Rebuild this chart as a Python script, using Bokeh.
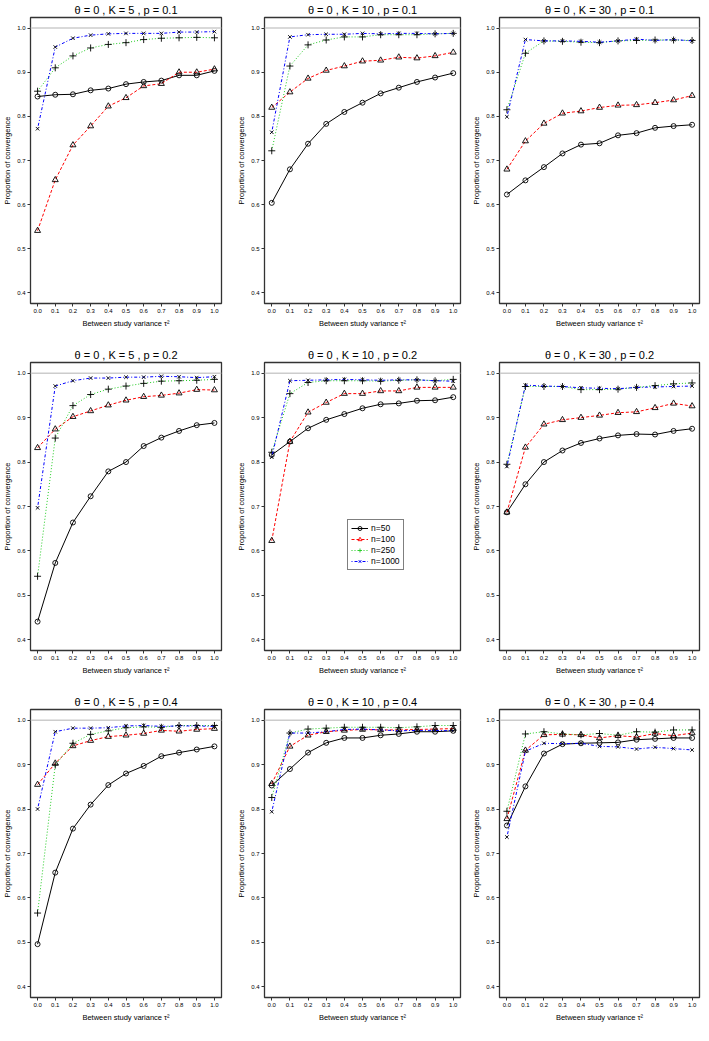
from bokeh.plotting import figure
from bokeh.layouts import gridplot
from bokeh.models import Span, Legend, LegendItem, FixedTicker, Range1d
from bokeh.embed import file_html
from bokeh.resources import INLINE

# ---------------- data ----------------
tau2 = [0.0, 0.1, 0.2, 0.3, 0.4, 0.5, 0.6, 0.7, 0.8, 0.9, 1.0]
x_tick_labels = ["0.0", "0.1", "0.2", "0.3", "0.4", "0.5", "0.6", "0.7", "0.8", "0.9", "1.0"]
y_ticks = [0.4, 0.5, 0.6, 0.7, 0.8, 0.9, 1.0]
y_tick_labels = ["0.4", "0.5", "0.6", "0.7", "0.8", "0.9", "1.0"]
K_values = [5, 10, 30]
p_values = [0.1, 0.2, 0.4]
series_names = ["n=50", "n=100", "n=250", "n=1000"]

# K=5, p=0.1
k5_p01_n50 = [0.845, 0.849, 0.850, 0.859, 0.863, 0.873, 0.878, 0.881, 0.893, 0.893, 0.903]
k5_p01_n100 = [0.541, 0.656, 0.735, 0.778, 0.823, 0.842, 0.869, 0.874, 0.900, 0.900, 0.907]
k5_p01_n250 = [0.857, 0.910, 0.937, 0.955, 0.963, 0.967, 0.974, 0.977, 0.978, 0.979, 0.978]
k5_p01_n1000 = [0.772, 0.957, 0.977, 0.984, 0.987, 0.988, 0.988, 0.988, 0.991, 0.991, 0.992]
# K=10, p=0.1
k10_p01_n50 = [0.604, 0.680, 0.738, 0.783, 0.810, 0.831, 0.852, 0.865, 0.878, 0.888, 0.898]
k10_p01_n100 = [0.820, 0.855, 0.886, 0.904, 0.914, 0.925, 0.927, 0.934, 0.932, 0.937, 0.945]
k10_p01_n250 = [0.722, 0.914, 0.962, 0.973, 0.980, 0.980, 0.985, 0.985, 0.985, 0.987, 0.988]
k10_p01_n1000 = [0.764, 0.980, 0.985, 0.986, 0.986, 0.988, 0.987, 0.988, 0.988, 0.987, 0.988]
# K=30, p=0.1
k30_p01_n50 = [0.623, 0.655, 0.685, 0.716, 0.736, 0.739, 0.757, 0.762, 0.774, 0.778, 0.781]
k30_p01_n100 = [0.680, 0.744, 0.784, 0.807, 0.812, 0.820, 0.825, 0.826, 0.831, 0.837, 0.847]
k30_p01_n250 = [0.815, 0.943, 0.971, 0.970, 0.968, 0.967, 0.971, 0.972, 0.973, 0.973, 0.972]
k30_p01_n1000 = [0.799, 0.974, 0.971, 0.971, 0.970, 0.968, 0.971, 0.975, 0.972, 0.974, 0.971]
# K=5, p=0.2
k5_p02_n50 = [0.441, 0.573, 0.664, 0.723, 0.779, 0.800, 0.836, 0.855, 0.870, 0.883, 0.888]
k5_p02_n100 = [0.832, 0.874, 0.902, 0.915, 0.928, 0.939, 0.947, 0.950, 0.955, 0.963, 0.962]
k5_p02_n250 = [0.543, 0.854, 0.927, 0.952, 0.964, 0.971, 0.977, 0.982, 0.983, 0.984, 0.986]
k5_p02_n1000 = [0.697, 0.971, 0.983, 0.989, 0.989, 0.991, 0.991, 0.993, 0.992, 0.990, 0.992]
# K=10, p=0.2
k10_p02_n50 = [0.816, 0.846, 0.876, 0.895, 0.908, 0.921, 0.930, 0.932, 0.938, 0.939, 0.946]
k10_p02_n100 = [0.623, 0.846, 0.912, 0.934, 0.954, 0.954, 0.960, 0.960, 0.968, 0.968, 0.968]
k10_p02_n250 = [0.822, 0.954, 0.979, 0.983, 0.983, 0.983, 0.982, 0.984, 0.985, 0.983, 0.986]
k10_p02_n1000 = [0.811, 0.983, 0.984, 0.985, 0.986, 0.985, 0.984, 0.985, 0.985, 0.983, 0.982]
# K=30, p=0.2
k30_p02_n50 = [0.687, 0.750, 0.800, 0.826, 0.843, 0.853, 0.860, 0.863, 0.862, 0.870, 0.875]
k30_p02_n100 = [0.687, 0.833, 0.885, 0.895, 0.900, 0.905, 0.911, 0.913, 0.922, 0.932, 0.926]
k30_p02_n250 = [0.795, 0.970, 0.970, 0.970, 0.963, 0.963, 0.964, 0.968, 0.972, 0.976, 0.978]
k30_p02_n1000 = [0.790, 0.973, 0.971, 0.970, 0.967, 0.966, 0.965, 0.968, 0.969, 0.970, 0.971]
# K=5, p=0.4
k5_p04_n50 = [0.496, 0.657, 0.756, 0.810, 0.854, 0.880, 0.897, 0.919, 0.927, 0.934, 0.941]
k5_p04_n100 = [0.855, 0.903, 0.942, 0.954, 0.963, 0.966, 0.970, 0.977, 0.975, 0.979, 0.981]
k5_p04_n250 = [0.566, 0.899, 0.948, 0.968, 0.976, 0.983, 0.985, 0.984, 0.988, 0.988, 0.988]
k5_p04_n1000 = [0.800, 0.974, 0.982, 0.982, 0.983, 0.987, 0.988, 0.986, 0.987, 0.987, 0.986]
# K=10, p=0.4
k10_p04_n50 = [0.853, 0.890, 0.927, 0.949, 0.960, 0.960, 0.966, 0.969, 0.974, 0.974, 0.976]
k10_p04_n100 = [0.857, 0.941, 0.966, 0.974, 0.977, 0.979, 0.978, 0.978, 0.979, 0.980, 0.981]
k10_p04_n250 = [0.826, 0.971, 0.980, 0.982, 0.984, 0.984, 0.984, 0.983, 0.985, 0.988, 0.988]
k10_p04_n1000 = [0.794, 0.971, 0.971, 0.974, 0.979, 0.980, 0.978, 0.976, 0.977, 0.977, 0.976]
# K=30, p=0.4
k30_p04_n50 = [0.763, 0.851, 0.925, 0.946, 0.948, 0.949, 0.950, 0.956, 0.958, 0.960, 0.960]
k30_p04_n100 = [0.778, 0.932, 0.967, 0.968, 0.967, 0.960, 0.965, 0.962, 0.970, 0.965, 0.971]
k30_p04_n250 = [0.795, 0.969, 0.974, 0.969, 0.967, 0.970, 0.966, 0.974, 0.973, 0.978, 0.978]
k30_p04_n1000 = [0.737, 0.930, 0.948, 0.947, 0.948, 0.941, 0.940, 0.935, 0.939, 0.936, 0.933]

panel_data = {
    (0, 0): [k5_p01_n50, k5_p01_n100, k5_p01_n250, k5_p01_n1000],
    (0, 1): [k10_p01_n50, k10_p01_n100, k10_p01_n250, k10_p01_n1000],
    (0, 2): [k30_p01_n50, k30_p01_n100, k30_p01_n250, k30_p01_n1000],
    (1, 0): [k5_p02_n50, k5_p02_n100, k5_p02_n250, k5_p02_n1000],
    (1, 1): [k10_p02_n50, k10_p02_n100, k10_p02_n250, k10_p02_n1000],
    (1, 2): [k30_p02_n50, k30_p02_n100, k30_p02_n250, k30_p02_n1000],
    (2, 0): [k5_p04_n50, k5_p04_n100, k5_p04_n250, k5_p04_n1000],
    (2, 1): [k10_p04_n50, k10_p04_n100, k10_p04_n250, k10_p04_n1000],
    (2, 2): [k30_p04_n50, k30_p04_n100, k30_p04_n250, k30_p04_n1000],
}

# ---------------- styles ----------------
FONT = "Liberation Sans"
line_colors = ["black", "#ff0000", "#22cc22", "#0000ff"]
line_dashes = ["solid", "3 2", "1 2", "1 2 3 2"]
markers = ["circle", "triangle", "cross", "x"]
marker_sizes = [5, 6, 7, 5]

col_widths = [234, 233, 234]
col_left = [24, 26, 32]
row_heights = [330, 347, 347]
row_top = [15, 32, 32]

nan = float("nan")

figs = []
for r in range(3):
    row_figs = []
    for c in range(3):
        w = col_widths[c]
        fig = figure(width=w, height=row_heights[r],
                     x_range=Range1d(-0.04, 1.04), y_range=Range1d(0.376, 1.024),
                     output_backend="svg", toolbar_location=None,
                     min_border_left=col_left[c],
                     min_border_right=w - col_left[c] - 200 if c > 0 else w - col_left[c] - 197,
                     min_border_top=row_top[r], min_border_bottom=23)
        fig.title.text = "θ = 0 , K = %d , p = %s" % (K_values[c], p_values[r])
        fig.title.align = "center"
        fig.title.text_font = FONT
        fig.title.text_font_size = "11px"
        fig.title.text_font_style = "normal"
        fig.title.text_color = "black"
        fig.title.standoff = 3
        fig.grid.visible = False
        fig.background_fill_color = "white"
        fig.border_fill_color = "white"
        fig.outline_line_color = "#333333"
        fig.outline_line_width = 1.3

        for ax in (fig.xaxis[0], fig.yaxis[0]):
            ax.axis_line_color = None
            ax.major_tick_in = 0
            ax.major_tick_out = 3
            ax.minor_tick_line_color = None
            ax.major_tick_line_color = "#333333"
            ax.major_label_text_font = FONT
            ax.major_label_text_font_size = "6px"
            ax.major_label_text_color = "black"
            ax.major_label_standoff = 2
            ax.axis_label_text_font = FONT
            ax.axis_label_text_font_size = "7.5px"
            ax.axis_label_text_font_style = "normal"
            ax.axis_label_text_color = "black"
            ax.axis_label_standoff = 3
        fig.xaxis[0].ticker = FixedTicker(ticks=tau2)
        fig.xaxis[0].major_label_overrides = dict(zip(tau2, x_tick_labels))
        fig.yaxis[0].ticker = FixedTicker(ticks=y_ticks)
        fig.yaxis[0].major_label_overrides = dict(zip(y_ticks, y_tick_labels))
        fig.yaxis[0].major_label_orientation = "horizontal"
        fig.yaxis[0].axis_label_standoff = 2
        fig.xaxis[0].axis_label = "Between study variance τ²"
        fig.yaxis[0].axis_label = "Proportion of convergence"

        fig.add_layout(Span(location=1.0, dimension="width", line_color="#cccccc", line_width=1.5))

        for i, ys in enumerate(panel_data[(r, c)]):
            fig.line(tau2, ys, line_color=line_colors[i], line_dash=line_dashes[i], line_width=1)
            fig.scatter(tau2, ys, marker=markers[i], size=marker_sizes[i],
                        fill_color=None, line_color="black", line_width=0.9)

        if (r, c) == (1, 1):
            items = []
            for i, name in enumerate(series_names):
                lr = fig.line([nan], [nan], line_color=line_colors[i], line_dash=line_dashes[i], line_width=1)
                sr = fig.scatter([nan], [nan], marker=markers[i], size=marker_sizes[i],
                                 fill_color=None, line_color=line_colors[i], line_width=0.9)
                items.append(LegendItem(label=name, renderers=[lr, sr]))
            leg = Legend(items=items, location=(83, 80))
            leg.label_text_font = FONT
            leg.label_text_font_size = "8.5px"
            leg.label_text_color = "black"
            leg.glyph_height = 10
            leg.glyph_width = 17
            leg.label_height = 10
            leg.label_standoff = 3
            leg.spacing = 1
            leg.padding = 3
            leg.margin = 0
            leg.border_line_color = "black"
            leg.border_line_width = 1
            leg.background_fill_alpha = 1.0
            fig.add_layout(leg, "center")
        row_figs.append(fig)
    figs.append(row_figs)

layout = gridplot(figs, toolbar_location=None)

open("out.html", "w").write(file_html(layout, INLINE))
